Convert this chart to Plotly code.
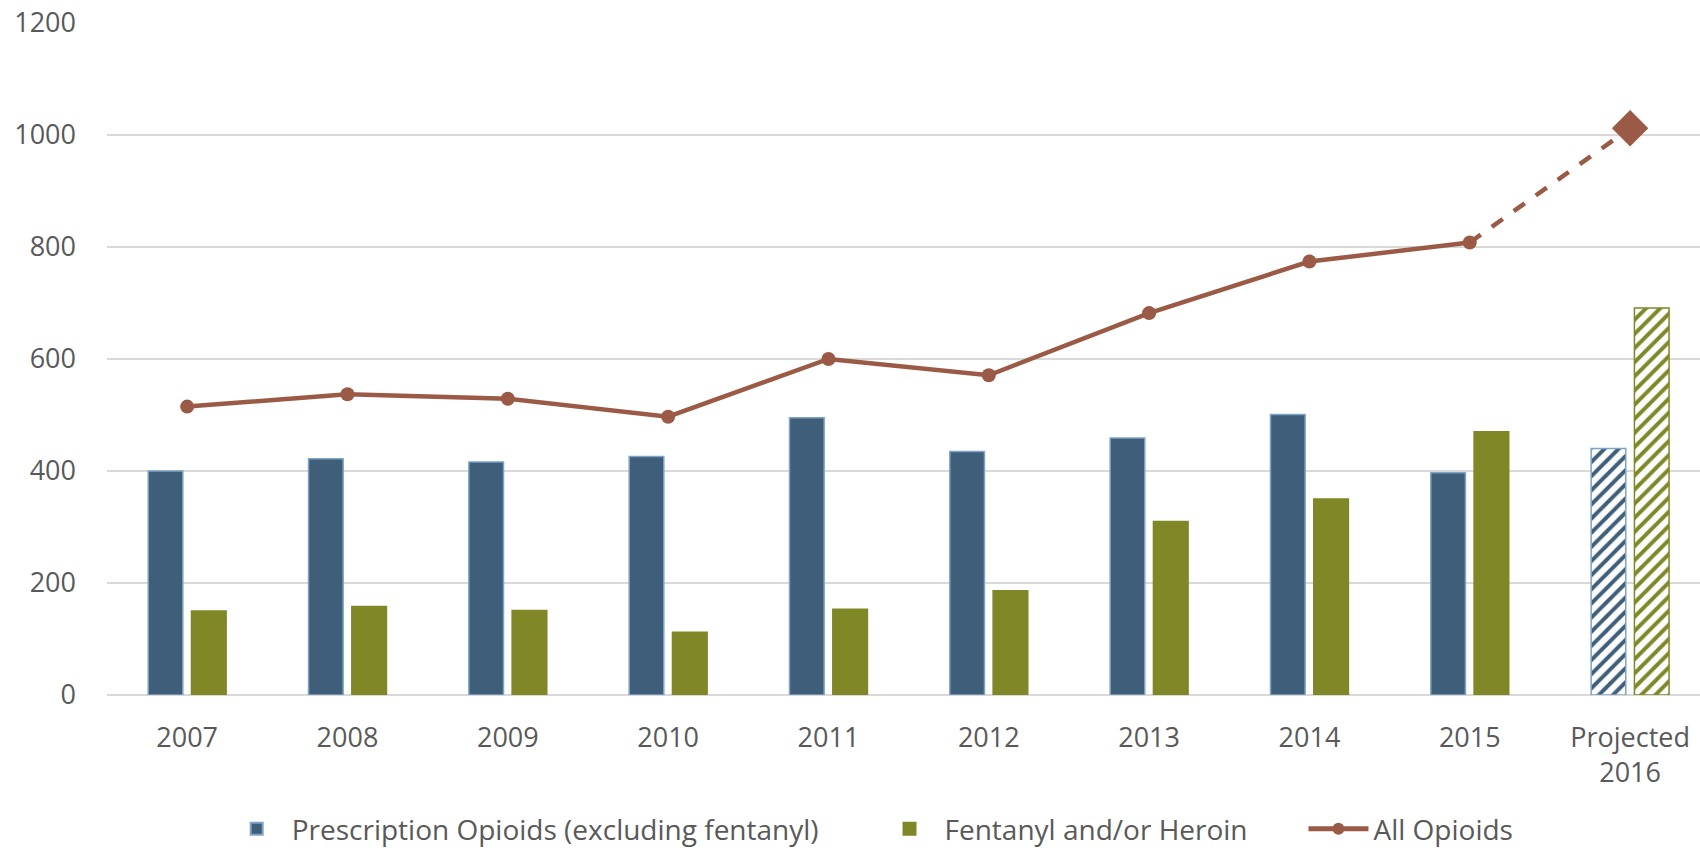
import plotly.graph_objects as go

years = ['2007', '2008', '2009', '2010', '2011', '2012', '2013', '2014', '2015', 'Projected<br>2016']
prescription = [400, 422, 416, 426, 495, 435, 459, 501, 397, 440]
fentanyl_heroin = [150, 158, 151, 112, 153, 186, 310, 350, 470, 691]
all_opioids = [515, 537, 529, 497, 600, 571, 682, 774, 808, 1012]

BLUE = '#3E5E7A'
BLUE_EDGE = '#7FA3C4'
GREEN = '#7F8727'
BROWN = '#9A5A45'
TXT = '#595959'

n = len(years)
# ultimo punto es proyectado: barras rayadas
shapes = [''] * (n - 1) + ['/']
pad = '\u00a0' * 7  # separacion entre entradas de la leyenda

fig = go.Figure()
fig.add_trace(go.Bar(
    x=years, y=prescription, name='Prescription Opioids (excluding fentanyl)' + pad,
    marker=dict(color=BLUE, line=dict(color=BLUE_EDGE, width=1.5),
                pattern=dict(shape=shapes, fgcolor=BLUE, bgcolor='white', fillmode='replace',
                             fgopacity=1, size=10, solidity=0.4)),
))
fig.add_trace(go.Bar(
    x=years, y=fentanyl_heroin, name='Fentanyl and/or Heroin' + pad,
    marker=dict(color=GREEN, line=dict(color=GREEN, width=1.5),
                pattern=dict(shape=shapes, fgcolor=GREEN, bgcolor='white', fillmode='replace',
                             fgopacity=1, size=10, solidity=0.4)),
))
fig.add_trace(go.Scatter(
    x=years[:-1], y=all_opioids[:-1], name='All Opioids', mode='lines+markers',
    line=dict(color=BROWN, width=4.5), marker=dict(size=14, color=BROWN),
))
fig.add_trace(go.Scatter(
    x=years[-2:], y=all_opioids[-2:], mode='lines', showlegend=False,
    line=dict(color=BROWN, width=4.5, dash='dash'),
))
fig.add_trace(go.Scatter(
    x=years[-1:], y=all_opioids[-1:], mode='markers', showlegend=False,
    marker=dict(size=28, symbol='diamond', color=BROWN, opacity=1),
))

fig.update_layout(
    width=1700, height=852,
    margin=dict(l=107, r=0, t=23, b=157),
    plot_bgcolor='white', paper_bgcolor='white',
    font=dict(family='Open Sans', size=25, color=TXT),
    barmode='group', bargap=0.46, bargroupgap=0.2,
    legend=dict(orientation='h', x=0.072, xanchor='left', yref='container', y=0.027,
                yanchor='middle', font=dict(size=28, color=TXT), itemsizing='constant',
                itemwidth=60),
    xaxis=dict(range=[-0.5, 9.436], showgrid=False, showline=False, ticks='',
               tickfont=dict(size=27, color=TXT), ticklabelstandoff=24, automargin=False),
    yaxis=dict(range=[0, 1200], dtick=200, showgrid=True, gridcolor='#D9D9D9', gridwidth=2,
               zeroline=True, zerolinecolor='#D9D9D9', zerolinewidth=2, ticks='',
               tickfont=dict(size=27, color=TXT), ticklabelstandoff=30, automargin=False,
               ticklabeloverflow='allow'),
)

# sin margen del body para que la figura ocupe justo la ventana
fig.write_html('out.html', config={'displayModeBar': False},
               post_script="document.body.style.margin='0';")
